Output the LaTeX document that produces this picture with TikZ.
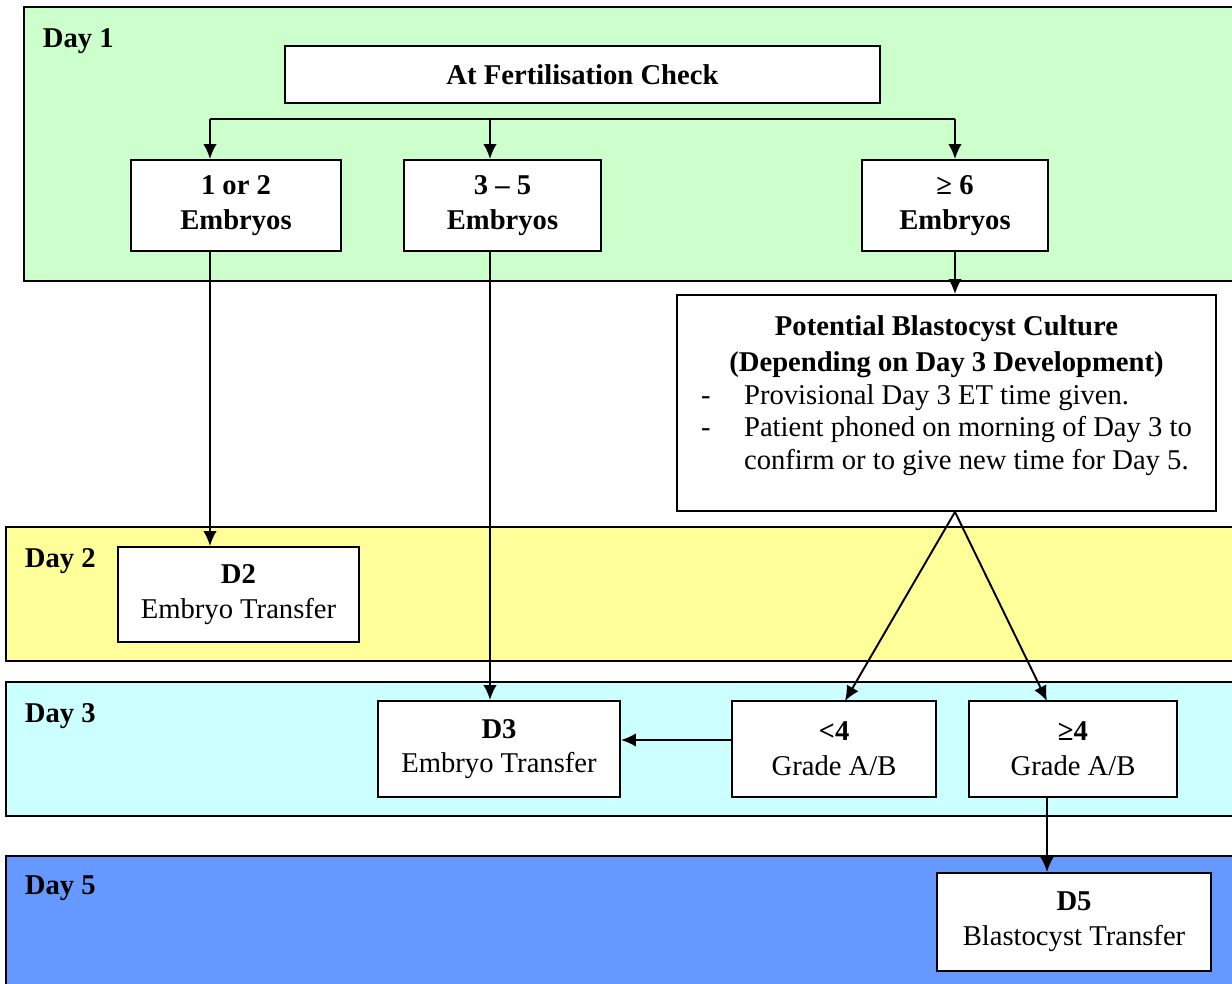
\documentclass[tikz,border=0pt]{standalone}
\usepackage{fontspec}
\setmainfont{Liberation Serif}
\usepackage{tikz}
\usetikzlibrary{arrows.meta}

\definecolor{dayone}{HTML}{CCFFCC}
\definecolor{daytwo}{HTML}{FFFF99}
\definecolor{daythree}{HTML}{CCFFFF}
\definecolor{dayfive}{HTML}{6699FF}

\begin{document}
\begin{tikzpicture}[
            x = 0.02cm, y = -0.02cm, % one unit is one pixel of the page
            > = {Latex[length=3mm,width=2.7mm]}, % arrow head style
            line width = 1.1pt, % line style
            font = \fontsize{16.3}{19.8}\selectfont,
            band/.style = {draw, line width=1.1pt},
            box/.style = {draw, fill=white, align=center, inner sep=0pt},
            daylabel/.style = {font=\fontsize{16.3}{19.8}\selectfont\bfseries, inner sep=0pt, anchor=base west}
        ]

	\path[use as bounding box, clip] (0,0) rectangle (1232,984);

	% day bands
	\draw[band, fill=dayone] (24,7) rectangle (1260,281);
	\draw[band, fill=daytwo] (6,527) rectangle (1260,661);
	\draw[band, fill=daythree] (6,682) rectangle (1260,816);
	\draw[band, fill=dayfive] (6,856) rectangle (1260,1000);

	\node[daylabel] (day1) at (42,47) {Day 1};
	\node[daylabel] (day2) at (24,567) {Day 2};
	\node[daylabel] (day3) at (24,722) {Day 3};
	\node[daylabel] (day5) at (24,894) {Day 5};

	% boxes
	\node[box, minimum width=11.9cm, minimum height=1.14cm] (afc) at (582.5,74.5) {\textbf{At Fertilisation Check}};
	\node[box, minimum width=4.2cm, minimum height=1.82cm] (n12) at (236,205.5) {\textbf{1 or 2}\\\textbf{Embryos}};
	\node[box, minimum width=3.94cm, minimum height=1.82cm] (n35) at (502.5,205.5) {\textbf{3 – 5}\\\textbf{Embryos}};
	\node[box, minimum width=3.72cm, minimum height=1.82cm] (n6) at (955,205.5) {\textbf{≥ 6}\\\textbf{Embryos}};

	\node[box] (pbc) at (946.5,403) {\parbox[c][4.32cm][t]{10.78cm}{\centering\fontsize{16.3}{18.6}\selectfont\vspace*{0.41cm}%
		\textbf{Potential Blastocyst Culture}\\[2pt]
		\textbf{(Depending on Day 3 Development)}\\
		\begin{tabular}[t]{@{}p{0.86cm}@{}l@{}}
			- & Provisional Day 3 ET time given.\\
			- & Patient phoned on morning of Day 3 to\\
			  & confirm or to give new time for Day 5.
		\end{tabular}}};

	\node[box, minimum width=4.82cm, minimum height=1.9cm] (d2) at (238.5,594.5) {\textbf{D2}\\Embryo Transfer};
	\node[box, minimum width=4.84cm, minimum height=1.92cm] (d3) at (499,749) {\textbf{D3}\\Embryo Transfer};
	\node[box, minimum width=4.08cm, minimum height=1.92cm] (lt4) at (834,749) {\textbf{<4}\\Grade A/B};
	\node[box, minimum width=4.16cm, minimum height=1.92cm] (ge4) at (1073,749) {\textbf{≥4}\\Grade A/B};
	\node[box, minimum width=5.48cm, minimum height=1.96cm] (d5) at (1074,922) {\textbf{D5}\\Blastocyst Transfer};

	% connectors
	\coordinate (a12) at (210,119);
	\coordinate (a35) at (490,119);
	\coordinate (a6) at (955,119);
	\coordinate (apex) at (a6 |- pbc.south);
	\coordinate (to3) at (845,701);
	\coordinate (to4) at (1047,701);
	\coordinate (row3) at (0,740);

	\draw (a12) -- (a6);
	\draw[->] (a12) -- (a12 |- n12.north);
	\draw[->] (a35) -- (a35 |- n35.north);
	\draw[->] (a6) -- (n6.north);

	\draw[->] (a12 |- n12.south) -- (a12 |- d2.north);
	\draw[->] (a35 |- n35.south) -- (a35 |- d3.north);
	\draw[->] (n6.south) -- (a6 |- pbc.north);
	\draw[->] (apex) -- (to3);
	\draw[->] (apex) -- (to4);
	\draw[->] (lt4.west |- row3) -- (d3.east |- row3);
	\draw[->] (to4 |- ge4.south) -- (to4 |- d5.north);

\end{tikzpicture}
\end{document}
